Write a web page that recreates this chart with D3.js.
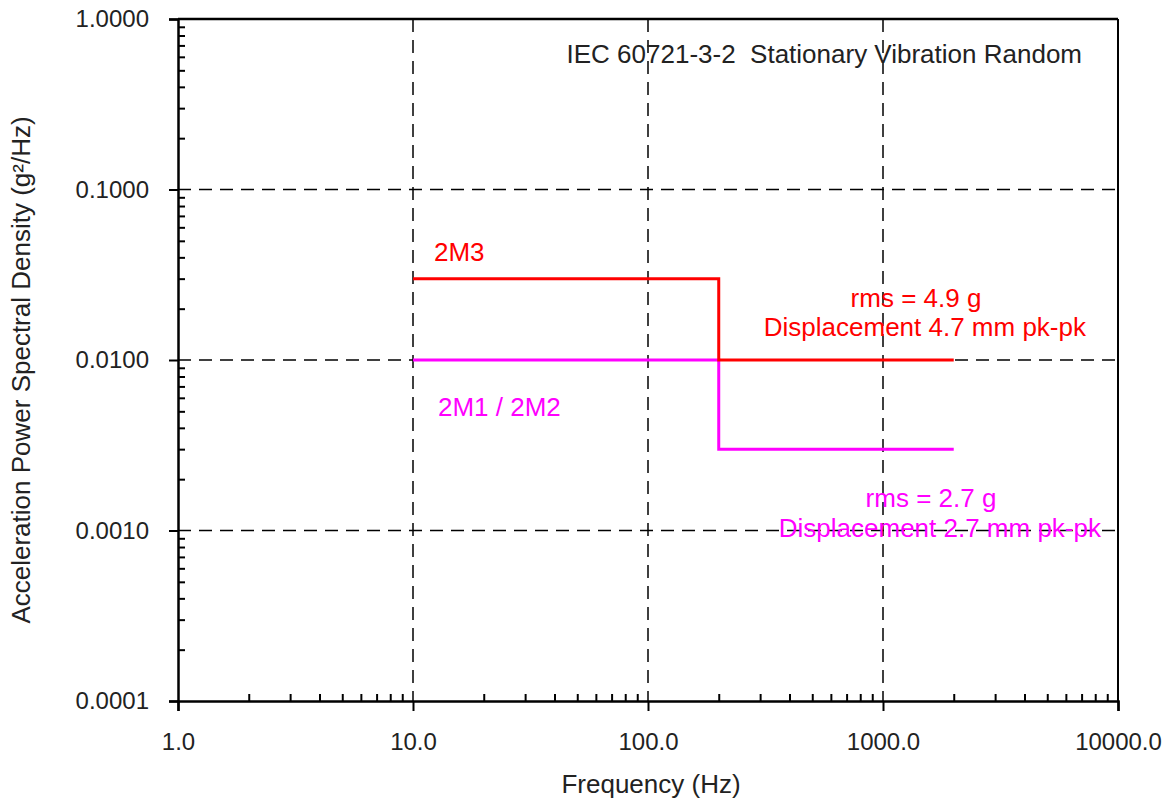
<!DOCTYPE html>
<html>
<head>
<meta charset="utf-8">
<script src="https://cdn.jsdelivr.net/npm/d3@7"></script>
<style>
  html, body { margin: 0; padding: 0; background: #fff; overflow: hidden; }
  svg { display: block; }
  text { font-family: "Liberation Sans", Arial, sans-serif; }
</style>
</head>
<body>
<svg id="graph" width="1175" height="803"></svg>
<script>
// data
var freq_2M3 = [10, 200, 200, 2000];
var psd_2M3 = [0.03, 0.03, 0.01, 0.01];
var freq_2M1 = [10, 200, 200, 2000];
var psd_2M1 = [0.01, 0.01, 0.003, 0.003];
var xTicks = [1, 10, 100, 1000, 10000];
var yTicks = [0.0001, 0.001, 0.01, 0.1, 1];

var width = 1175, height = 803;
const margin = { top: 19, bottom: 102, right: 57, left: 178 };
const innerWidth = width - margin.left - margin.right;
const innerHeight = height - margin.top - margin.bottom;

const svg = d3.select('#graph');
const g = svg.append('g').attr('transform', `translate(${margin.left}, ${margin.top})`);

const x = d3.scaleLog().domain([1, 10000]).range([0, innerWidth]);
const y = d3.scaleLog().domain([0.0001, 1]).range([innerHeight, 0]);

// minor tick values
var xMinor = [], yMinor = [];
xTicks.slice(0, -1).forEach(d => { for (var k = 2; k < 10; k++) xMinor.push(d * k); });
yTicks.slice(0, -1).forEach(d => { for (var k = 2; k < 10; k++) yMinor.push(d * k); });

// dashed grid lines
g.selectAll('.vgrid').data(xTicks.slice(1, -1)).join('line')
  .attr('class', 'vgrid')
  .attr('x1', d => x(d)).attr('x2', d => x(d))
  .attr('y1', 0).attr('y2', innerHeight)
  .attr('stroke', '#000').attr('stroke-width', 1.5).attr('stroke-dasharray', '13,8');
g.selectAll('.hgrid').data(yTicks.slice(1, -1)).join('line')
  .attr('class', 'hgrid')
  .attr('x1', 0).attr('x2', innerWidth)
  .attr('y1', d => y(d)).attr('y2', d => y(d))
  .attr('stroke', '#000').attr('stroke-width', 1.5).attr('stroke-dasharray', '13,8');

// frame top / right
g.append('line').attr('x1', 0).attr('x2', innerWidth).attr('y1', 0).attr('y2', 0)
  .attr('stroke', '#000').attr('stroke-width', 2.5);
g.append('line').attr('x1', innerWidth).attr('x2', innerWidth).attr('y1', 0).attr('y2', innerHeight)
  .attr('stroke', '#000').attr('stroke-width', 2);

// x axis: major ticks outward, minor inward
const xAxis = g.append('g').attr('transform', `translate(0,${innerHeight})`)
  .call(d3.axisBottom(x).tickValues(xTicks).tickSize(10).tickPadding(22).tickFormat(d3.format('.1f')));
xAxis.select('.domain').attr('stroke-width', 2.5);
xAxis.selectAll('.tick line').attr('stroke-width', 2);
xAxis.selectAll('text').style('font-size', '24px').attr('fill', '#222');
g.append('g').attr('transform', `translate(0,${innerHeight})`)
  .call(d3.axisTop(x).tickValues(xMinor).tickSize(7).tickFormat(''))
  .call(s => s.select('.domain').remove())
  .call(s => s.selectAll('.tick text').remove())
  .selectAll('.tick line').attr('stroke-width', 2);

// y axis
const yAxis = g.append('g')
  .call(d3.axisLeft(y).tickValues(yTicks).tickSize(9).tickPadding(20).tickFormat(d3.format('.4f')));
yAxis.select('.domain').attr('stroke-width', 2.5);
yAxis.selectAll('.tick line').attr('stroke-width', 2);
yAxis.selectAll('text').style('font-size', '24px').attr('fill', '#222');
g.append('g')
  .call(d3.axisRight(y).tickValues(yMinor).tickSize(7).tickFormat(''))
  .call(s => s.select('.domain').remove())
  .call(s => s.selectAll('.tick text').remove())
  .selectAll('.tick line').attr('stroke-width', 2);

// series
const line = d3.line().x(d => x(d[0])).y(d => y(d[1]));
g.append('path').datum(d3.zip(freq_2M1, psd_2M1)).attr('d', line)
  .attr('fill', 'none').attr('stroke', '#ff00ff').attr('stroke-width', 3);
g.append('path').datum(d3.zip(freq_2M3, psd_2M3)).attr('d', line)
  .attr('fill', 'none').attr('stroke', '#ff0000').attr('stroke-width', 3);

// annotations
function label(txt, px, py, color, anchor) {
  svg.append('text').attr('x', px).attr('y', py).text(txt)
    .style('font-size', '26px').style('white-space', 'pre')
    .attr('fill', color).attr('text-anchor', anchor || 'start');
}
label('IEC 60721-3-2  Stationary Vibration Random', 1082, 63, '#222', 'end');
label('2M3', 434, 261, '#ff0000');
label('rms = 4.9 g', 916, 307, '#ff0000', 'middle');
label('Displacement 4.7 mm pk-pk', 1086, 336, '#ff0000', 'end');
label('2M1 / 2M2', 438, 416, '#ff00ff');
label('rms = 2.7 g', 931, 507, '#ff00ff', 'middle');
label('Displacement 2.7 mm pk-pk', 1101, 537, '#ff00ff', 'end');

// axis labels
svg.append('text').attr('x', 651).attr('y', 793)
  .attr('text-anchor', 'middle').style('font-size', '26px').attr('fill', '#222')
  .text('Frequency (Hz)');
svg.append('text').attr('transform', 'rotate(-90)')
  .attr('x', -370).attr('y', 30)
  .attr('text-anchor', 'middle').style('font-size', '26px').attr('fill', '#222')
  .text('Acceleration Power Spectral Density (g²/Hz)');
</script>
</body>
</html>
